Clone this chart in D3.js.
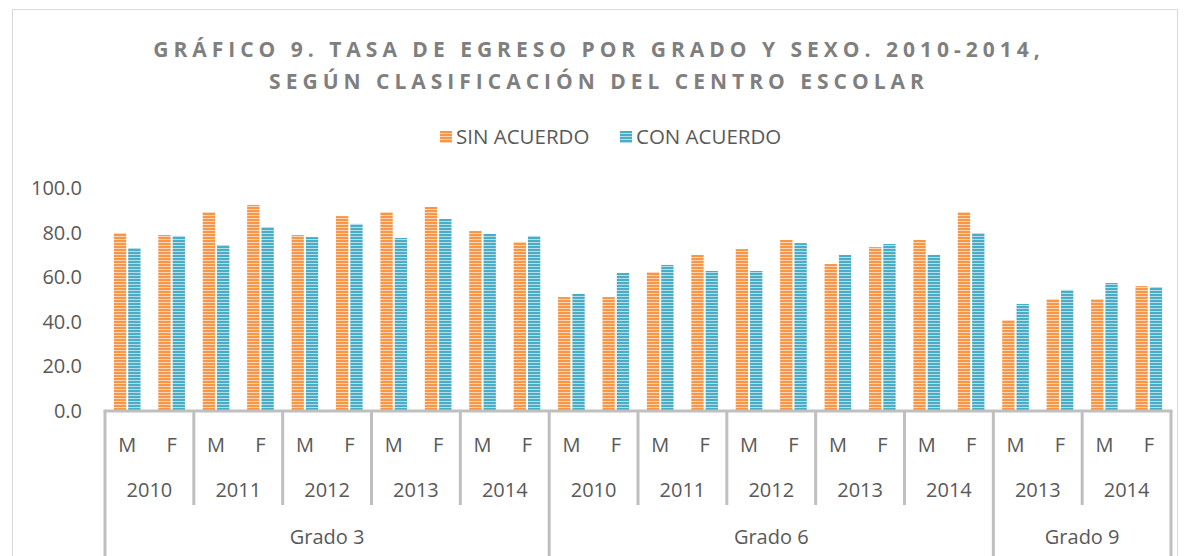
<!DOCTYPE html>
<html>
<head>
<meta charset="utf-8">
<script src="https://cdn.jsdelivr.net/npm/d3@7"></script>
<style>
  html, body { margin: 0; padding: 0; background: #fff; }
  svg { display: block; font-family: "Open Sans", sans-serif; }
</style>
</head>
<body>
<div id="chart"></div>
<script>
// data
const gradoLabels = ['Grado 3', 'Grado 6', 'Grado 9'];
const yearsByGrado = [
  ['2010', '2011', '2012', '2013', '2014'],
  ['2010', '2011', '2012', '2013', '2014'],
  ['2013', '2014']
];
const sexes = ['M', 'F'];
const seriesNames = ['SIN ACUERDO', 'CON ACUERDO'];
const sinAcuerdo = [79.8, 78.9, 89.2, 92.4, 78.9, 87.4, 89.2, 91.5, 80.7, 75.8,
                    51.1, 51.1, 62.3, 70.0, 72.6, 76.7, 65.9, 73.5, 76.7, 89.2,
                    40.8, 50.2, 50.2, 56.0];
const conAcuerdo = [73.1, 78.5, 74.4, 82.5, 78.0, 83.9, 77.6, 86.1, 79.4, 78.5,
                    52.5, 61.9, 65.5, 62.8, 62.8, 75.3, 70.0, 74.9, 70.0, 79.8,
                    48.0, 54.3, 57.4, 55.6];
const yTicks = [0, 20, 40, 60, 80, 100];

const W = 1189, H = 556;
const colors = { base: ['#f79646', '#4bacc6'], light: ['#fcd3b3', '#b3dde9'] };
const textColor = '#595959';
const lineColor = '#bfbfbf';
const fontSize = '20px';

// flatten categories
const cats = [];
gradoLabels.forEach((g, gi) => {
  yearsByGrado[gi].forEach(y => {
    sexes.forEach(s => cats.push({ grado: g, year: y, sex: s }));
  });
});
cats.forEach((c, i) => { c.i = i; c.values = [sinAcuerdo[i], conAcuerdo[i]]; });

const svg = d3.select('#chart').append('svg')
  .attr('width', W).attr('height', H);

// chart frame
svg.append('rect')
  .attr('x', 12.5).attr('y', 9.5)
  .attr('width', 1165).attr('height', 600)
  .attr('fill', '#fff').attr('stroke', '#d9d9d9').attr('stroke-width', 1);

// striped patterns
const defs = svg.append('defs');
colors.base.forEach((c, k) => {
  const p = defs.append('pattern')
    .attr('id', 'stripe' + k)
    .attr('patternUnits', 'userSpaceOnUse')
    .attr('width', 6).attr('height', 3);
  p.append('rect').attr('width', 6).attr('height', 3).attr('fill', c);
  p.append('rect').attr('y', 2).attr('width', 6).attr('height', 1).attr('fill', colors.light[k]);
});

// title
const title = svg.append('text')
  .attr('text-anchor', 'middle')
  .attr('fill', '#7f7f7f')
  .style('font-weight', 'bold')
  .style('font-size', '21px')
  .style('letter-spacing', '5px');
title.append('tspan').attr('x', 599).attr('y', 57).text('GRÁFICO 9. TASA DE EGRESO POR GRADO Y SEXO. 2010-2014,');
title.append('tspan').attr('x', 599).attr('y', 89).text('SEGÚN CLASIFICACIÓN DEL CENTRO ESCOLAR');

// scales
const x = d3.scaleBand().domain(cats.map(c => c.i)).range([105, 1171]);
const xs = d3.scaleBand().domain([0, 1])
  .range([x.bandwidth() * 0.2, x.bandwidth() * 0.8]).paddingInner(0.14);
const y = d3.scaleLinear().domain([0, 100]).range([411, 188]);

// legend
const legend = svg.append('g').attr('transform', 'translate(0,137)');
const legendX = [440, 620];
seriesNames.forEach((s, k) => {
  legend.append('rect')
    .attr('x', legendX[k]).attr('y', -6)
    .attr('width', 12).attr('height', 12)
    .attr('fill', `url(#stripe${k})`);
  legend.append('text')
    .attr('x', legendX[k] + 16).attr('y', 0)
    .attr('dy', '0.35em')
    .attr('fill', textColor)
    .style('font-size', '20.5px')
    .text(s);
});

// y axis
const yAxis = svg.append('g')
  .attr('transform', 'translate(82,0)')
  .call(d3.axisLeft(y).tickValues(yTicks).tickSize(0).tickPadding(0).tickFormat(d3.format('.1f')));
yAxis.select('.domain').remove();
yAxis.selectAll('text')
  .attr('fill', textColor)
  .style('font-size', fontSize)
  .style('font-family', '"Open Sans", sans-serif');

// bars
const groups = svg.append('g').selectAll('g')
  .data(cats).join('g')
  .attr('transform', d => `translate(${x(d.i)},0)`);
groups.selectAll('rect')
  .data(d => d.values.map((v, k) => ({ v, k })))
  .join('rect')
  .attr('x', d => xs(d.k))
  .attr('width', xs.bandwidth())
  .attr('y', d => y(d.v))
  .attr('height', d => y(0) - y(d.v))
  .attr('fill', d => `url(#stripe${d.k})`);

// x axis: sex labels
const xAxis = svg.append('g')
  .attr('transform', 'translate(0,411)')
  .call(d3.axisBottom(x).tickSize(0).tickPadding(0).tickFormat(i => cats[i].sex));
xAxis.select('.domain').remove();
xAxis.selectAll('text')
  .attr('y', 34)
  .attr('dy', '0.35em')
  .attr('fill', textColor)
  .style('font-size', fontSize)
  .style('font-family', '"Open Sans", sans-serif');

// year and grado labels + separators
const sep = svg.append('g').attr('stroke', lineColor).attr('stroke-width', 3);
const labels = svg.append('g')
  .attr('fill', textColor)
  .attr('text-anchor', 'middle')
  .style('font-size', fontSize);

let idx = 0;
gradoLabels.forEach((g, gi) => {
  const gStart = x(idx);
  yearsByGrado[gi].forEach((yr, yi) => {
    const x0 = x(idx);
    const x1 = x(idx + sexes.length - 1) + x.bandwidth();
    labels.append('text')
      .attr('x', (x0 + x1) / 2).attr('y', 490).attr('dy', '0.35em')
      .text(yr);
    if (yi > 0) {
      sep.append('line').attr('x1', x0).attr('x2', x0).attr('y1', 411).attr('y2', 505);
    }
    idx += sexes.length;
  });
  const gEnd = x(idx - 1) + x.bandwidth();
  labels.append('text')
    .attr('x', (gStart + gEnd) / 2).attr('y', 537).attr('dy', '0.35em')
    .text(g);
  sep.append('line').attr('x1', gStart).attr('x2', gStart).attr('y1', 411).attr('y2', 556);
  if (gi === gradoLabels.length - 1) {
    sep.append('line').attr('x1', gEnd).attr('x2', gEnd).attr('y1', 411).attr('y2', 556);
  }
});

// category axis line
sep.append('line')
  .attr('x1', x.range()[0] - 1.5).attr('x2', x.range()[1] + 1.5)
  .attr('y1', 411).attr('y2', 411);
</script>
</body>
</html>
